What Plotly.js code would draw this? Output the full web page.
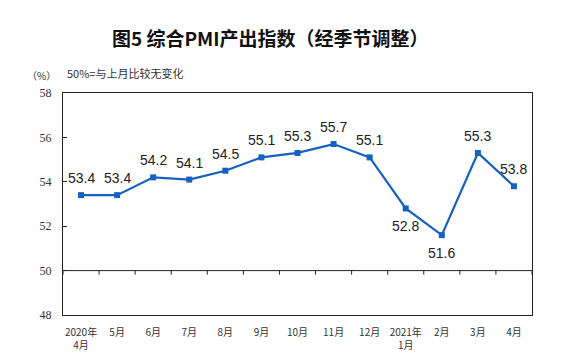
<!DOCTYPE html>
<html>
<head>
<meta charset="utf-8">
<script src="https://cdn.plot.ly/plotly-3.0.1.min.js"></script>
<style>html,body{margin:0;padding:0;background:#fff;}#chart{width:563px;height:358px;}</style>
</head>
<body>
<div id="chart"></div>
<script>
const categories = ["2020年<br>4月","5月","6月","7月","8月","9月","10月","11月","12月","2021年<br>1月","2月","3月","4月"];
const pmiValues = [53.4, 53.4, 54.2, 54.1, 54.5, 55.1, 55.3, 55.7, 55.1, 52.8, 51.6, 55.3, 53.8];
const labelBelow = [false, false, false, false, false, false, false, false, false, true, true, false, false];
const yTicks = [48, 50, 52, 54, 56, 58];
const yRange = [48, 58];
const baseline = 50;

const lineColor = "#1561c1";
const trace = {
  x: categories,
  y: pmiValues,
  type: "scatter",
  mode: "lines+markers",
  line: {color: lineColor, width: 2.2},
  marker: {symbol: "square", size: 6, color: lineColor},
  cliponaxis: false,
  hoverinfo: "skip",
  xaxis: "x",
  yaxis: "y"
};
// 50 baseline with downward tick marks at the category boundaries
const boundaries = categories.map((c, i) => i - 0.5).concat([categories.length - 0.5]);
const tickDepth = 0.18; // in y units (about 4 px)
const baseTrace = {
  x: boundaries,
  y: boundaries.map(() => baseline),
  type: "scatter",
  mode: "lines",
  line: {color: "#222", width: 1},
  error_y: {
    type: "data", symmetric: false,
    array: boundaries.map(() => 0),
    arrayminus: boundaries.map(() => tickDepth),
    width: 0, thickness: 1, color: "#222"
  },
  cliponaxis: false,
  xaxis: "x2",
  yaxis: "y",
  hoverinfo: "skip",
  showlegend: false
};

const valueLabels = categories.map((c, i) => ({
  x: c, y: pmiValues[i], xref: "x", yref: "y",
  text: pmiValues[i].toFixed(1), showarrow: false,
  yshift: labelBelow[i] ? -18 : 17,
  font: {family: "Liberation Sans, Arial, sans-serif", size: 14, color: "#222"}
}));

const layout = {
  width: 563,
  height: 358,
  margin: {l: 63, r: 31, t: 93, b: 43},
  paper_bgcolor: "#fff",
  plot_bgcolor: "#fff",
  showlegend: false,
  title: {
    text: "<b>图5 综合PMI产出指数（经季节调整）</b>",
    font: {family: "Noto Sans CJK SC, sans-serif", size: 19, color: "#111"},
    x: 0.48, xanchor: "center", y: 0.89, yanchor: "middle"
  },
  xaxis: {
    type: "category",
    range: [-0.5, categories.length - 0.5],
    showline: true, linecolor: "#222", linewidth: 1, mirror: true,
    ticks: "", showgrid: false, zeroline: false,
    tickfont: {family: "Noto Sans CJK SC, sans-serif", size: 10, color: "#333"},
    ticklabelstandoff: 8
  },
  xaxis2: {
    type: "linear",
    overlaying: "x",
    anchor: "y",
    range: [-0.5, categories.length - 0.5],
    visible: false,
    showgrid: false, zeroline: false
  },
  yaxis: {
    range: yRange,
    tickvals: yTicks,
    ticktext: yTicks.map(String),
    showline: true, linecolor: "#222", linewidth: 1, mirror: true,
    ticks: "inside", ticklen: 4, tickcolor: "#222",
    showgrid: false, zeroline: false,
    ticklabelstandoff: 8,
    tickfont: {family: "Liberation Serif, serif", size: 12, color: "#333"}
  },
  annotations: [
    {text: "（%）", xref: "paper", yref: "paper", x: -0.045, y: 1.08, xanchor: "center", yanchor: "middle", showarrow: false,
     font: {family: "Noto Sans CJK SC, sans-serif", size: 10, color: "#333"}},
    {text: "50%=与上月比较无变化", xref: "paper", yref: "paper", x: 0.005, y: 1.09, xanchor: "left", yanchor: "middle", showarrow: false,
     font: {family: "Noto Sans CJK SC, sans-serif", size: 11, color: "#333"}}
  ].concat(valueLabels)
};

Plotly.newPlot("chart", [baseTrace, trace], layout, {staticPlot: true, displayModeBar: false});
</script>
</body>
</html>
